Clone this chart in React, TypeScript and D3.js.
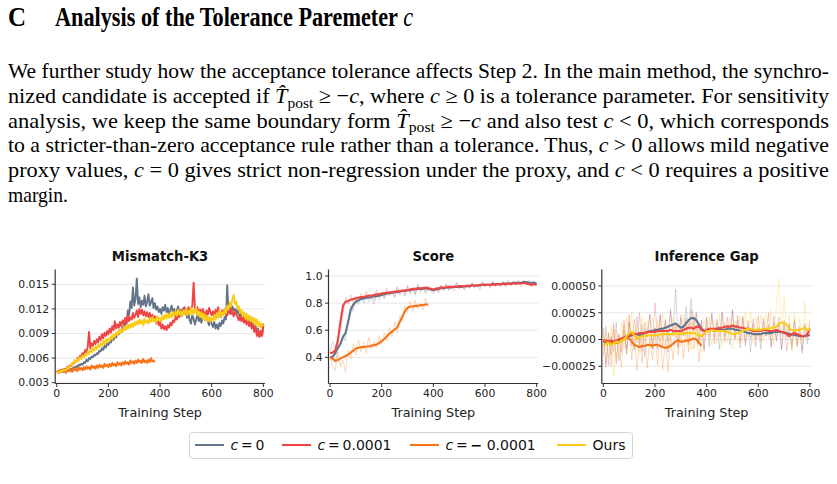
import * as d3 from 'd3';
import React from 'react';

// ---- run data -------------------------------------------------------------

const STEP_TICKS = [0, 200, 400, 600, 800];
const X_DOMAIN: [number, number] = [-6, 806];

// Mismatch-K3, logged every 5 steps, values in units of 1e-3
const K3_STRIDE = 5;
const K3_UNIT = 1e-3;
const k3Zero = [
  4.3, 4.4, 4.3, 4.5, 4.4, 4.3, 4.5, 4.6, 4.4, 4.5, 4.6,
  4.7, 4.6, 4.9, 4.8, 5.0, 4.9, 5.2, 5.1, 5.3, 5.2,
  5.5, 5.4, 5.8, 5.6, 6.0, 5.9, 6.2, 6.1, 6.4, 6.3,
  6.6, 6.5, 6.9, 6.8, 7.2, 7.0, 7.5, 7.3, 7.8, 7.6,
  8.0, 7.9, 8.4, 8.2, 8.7, 8.5, 9.0, 8.9, 9.4, 9.2,
  9.8, 9.6, 10.3, 10.1,
  11.8, 11.2, 12.9, 12.1, 14.6, 12.4,
  13.2, 15.7, 12.6, 13.4,
  12.2, 13.0, 12.5, 13.6, 12.3, 12.9, 13.8, 12.4, 12.8, 13.3, 12.1, 12.7,
  11.9, 12.3, 11.6, 12.0,
  11.4, 12.2, 11.8, 12.5, 11.6, 12.1, 11.3, 11.9, 12.4, 11.5, 12.0, 11.2, 11.8, 12.3, 11.4, 11.9, 11.1, 11.6, 12.2, 11.5,
  10.9, 11.6, 10.6, 10.2, 11.3, 10.8, 10.1, 10.7, 11.4, 10.5, 11.0, 10.3, 10.9, 11.5, 10.6, 11.2, 10.4, 10.0, 10.8, 10.2,
  9.8, 10.4, 9.6, 10.1, 9.5, 10.3, 9.9, 10.6, 10.2, 11.0, 10.7,
  14.9,
  11.6, 12.1, 11.4, 12.3, 11.8, 12.0, 11.5, 11.9, 11.2, 11.7, 11.0, 11.5, 10.8, 11.3, 10.6, 11.1,
  10.4, 10.9, 9.8, 10.3, 9.4, 9.9, 9.0, 9.6, 8.6, 9.2, 8.8, 10.2,
];
const k3Pos = [
  4.3, 4.4, 4.5, 4.3, 4.6, 4.5, 4.7, 4.6, 4.9, 4.8, 5.1,
  5.0, 5.4, 5.3, 5.7, 5.5, 6.0, 5.8, 6.3, 6.1, 6.6,
  6.4, 7.0, 6.7, 7.4, 9.2,
  7.2, 7.8, 7.5, 8.1, 7.7, 8.3, 7.9, 8.6, 8.2, 8.9, 8.4, 9.1, 8.7, 9.3, 8.9,
  9.6, 9.1, 9.9, 9.4, 10.5, 9.6, 10.1, 9.7, 10.4, 9.9,
  10.6, 10.1, 10.9, 10.3, 11.2, 10.5, 11.0, 10.7, 11.5, 10.9,
  11.3, 11.8, 11.0, 12.0, 11.4, 11.9, 11.2, 11.7, 11.1, 11.6,
  11.0, 11.5, 10.7, 11.3, 10.5, 11.1, 10.2, 10.8, 10.0, 10.4,
  9.6, 10.1, 9.5, 9.9, 9.4, 10.0, 9.7, 10.3, 10.0, 10.6,
  10.4, 11.0, 10.7, 11.4, 11.0, 11.8, 11.3, 12.1, 11.5, 12.0, 11.4, 12.2, 11.7, 12.0,
  12.4, 15.2, 12.1,
  11.6, 12.2, 11.4, 11.9, 11.2, 12.0, 11.5, 11.1, 11.8, 11.3, 12.1, 11.6, 11.2,
  11.7, 11.0, 11.9, 11.4, 12.2, 11.5, 11.0, 11.8, 11.3, 12.0, 11.6, 11.2, 11.9, 11.4, 12.1, 11.5, 11.1, 11.7, 11.3, 11.0,
  10.6, 11.2, 10.5, 11.0, 10.3, 10.8, 10.1, 10.6, 9.9, 10.4,
  9.6, 10.1, 9.2, 9.8, 8.7, 9.4, 8.6, 9.3, 8.7, 10.0,
];
const k3Neg = [
  4.3, 4.4, 4.2, 4.5, 4.3, 4.6, 4.4, 4.2, 4.5, 4.7, 4.4,
  4.6, 4.3, 4.8, 4.5, 4.7, 4.4, 4.9, 4.6, 4.8, 4.5,
  4.9, 4.6, 5.0, 4.7, 4.9, 4.6, 5.1, 4.8, 5.0, 4.7,
  5.1, 4.8, 5.2, 4.9, 5.1, 4.8, 5.3, 5.0, 5.2, 4.9,
  5.3, 5.0, 5.4, 5.1, 5.3, 5.0, 5.5, 5.2, 5.4, 5.1,
  5.5, 5.2, 5.6, 5.3, 5.5, 5.2, 5.7, 5.4, 5.6, 5.3,
  5.7, 5.4, 5.8, 5.5, 5.7, 5.4, 5.9, 5.5, 5.7, 5.4,
  5.8, 5.5, 6.0, 5.6, 5.7, 5.5,
];
const k3Ours = [
  4.3, 4.2, 4.4, 4.3, 4.5, 4.4, 4.6, 4.5, 4.8, 4.7, 5.0,
  5.1, 5.4, 5.3, 5.7, 5.5, 5.9, 5.7, 6.1, 5.9, 6.3,
  6.1, 6.5, 6.3, 6.8, 6.5, 7.0, 6.7, 7.2, 6.9, 7.4,
  7.1, 7.6, 7.3, 7.8, 7.5, 8.1, 7.7, 8.3, 7.9, 8.4,
  8.1, 8.7, 8.3, 8.9, 8.6, 9.1, 8.8, 9.4, 9.0, 9.5,
  9.2, 9.8, 9.4, 10.0, 9.5, 10.1, 9.7, 10.2, 9.8, 10.4,
  10.0, 10.5, 10.1, 10.7, 10.2, 10.6, 10.0, 10.8, 10.3, 10.6,
  10.2, 10.9, 10.4, 11.0, 10.5, 10.8, 10.3, 11.1, 10.6, 10.9,
  10.5, 11.2, 10.7, 11.3, 10.8, 11.4, 10.9, 11.5, 11.0, 11.6,
  11.1, 11.7, 11.2, 11.9, 11.3, 11.7, 11.1, 11.8, 11.4, 12.0,
  11.2, 11.8, 11.4, 12.1, 11.3, 11.9, 11.5, 12.2, 11.2, 11.7,
  11.0, 11.6, 10.8, 11.4, 10.6, 11.2, 10.5, 11.0, 10.4, 10.9,
  10.6, 11.3, 10.7, 11.5, 10.9, 11.8, 11.1, 11.6, 11.2, 12.0,
  11.5, 12.4, 11.9, 12.8, 12.3, 13.2, 13.7, 12.6, 12.9, 12.0,
  12.3, 11.5, 11.9, 11.1, 11.6, 10.8, 11.4, 10.6, 11.2, 10.5,
  11.0, 10.3, 10.9, 10.1, 10.7, 9.9, 10.4, 9.7, 10.2, 9.9,
];

// Score and Inference Gap, logged every 10 steps (raw + smoothed)
const RUN_STRIDE = 10;

const scoreZeroRaw = [
  0.39, 0.42, 0.36, 0.45, 0.48, 0.57, 0.52, 0.68, 0.78, 0.74, 0.83,
  0.79, 0.85, 0.80, 0.86, 0.81, 0.84, 0.79, 0.87, 0.82, 0.86,
  0.83, 0.89, 0.85, 0.88, 0.84, 0.91, 0.86, 0.89, 0.85, 0.92,
  0.87, 0.91, 0.86, 0.93, 0.88, 0.92, 0.87, 0.91, 0.89, 0.87,
  0.91, 0.88, 0.93, 0.89, 0.94, 0.90, 0.92, 0.89, 0.95, 0.91,
  0.93, 0.90, 0.94, 0.91, 0.95, 0.91, 0.94, 0.92, 0.96, 0.92,
  0.94, 0.92, 0.96, 0.93, 0.95, 0.92, 0.96, 0.93, 0.97, 0.94,
  0.96, 0.93, 0.97, 0.94, 0.96, 0.94, 0.97, 0.93, 0.96, 0.94,
];
const scoreZeroSmooth = [
  0.40, 0.405, 0.43, 0.47, 0.50, 0.55, 0.58, 0.66, 0.75, 0.79, 0.81,
  0.82, 0.83, 0.835, 0.84, 0.84, 0.845, 0.85, 0.85, 0.855, 0.86,
  0.865, 0.87, 0.875, 0.875, 0.88, 0.88, 0.885, 0.89, 0.89, 0.895,
  0.895, 0.90, 0.90, 0.905, 0.905, 0.905, 0.91, 0.905, 0.90, 0.895,
  0.90, 0.905, 0.91, 0.91, 0.915, 0.915, 0.915, 0.92, 0.92, 0.92,
  0.92, 0.925, 0.925, 0.925, 0.93, 0.93, 0.93, 0.93, 0.935, 0.935,
  0.935, 0.935, 0.935, 0.94, 0.94, 0.94, 0.945, 0.945, 0.945, 0.945,
  0.95, 0.95, 0.95, 0.95, 0.955, 0.955, 0.95, 0.95, 0.95, 0.945,
];
const scorePosRaw = [
  0.44, 0.52, 0.47, 0.55, 0.60, 0.72, 0.84, 0.79, 0.86, 0.80, 0.85,
  0.81, 0.87, 0.83, 0.89, 0.84, 0.86, 0.82, 0.90, 0.85, 0.88,
  0.84, 0.91, 0.86, 0.89, 0.85, 0.92, 0.87, 0.90, 0.86, 0.93,
  0.88, 0.91, 0.87, 0.94, 0.89, 0.92, 0.88, 0.93, 0.90, 0.89,
  0.92, 0.88, 0.93, 0.90, 0.94, 0.89, 0.92, 0.91, 0.95, 0.90,
  0.93, 0.90, 0.94, 0.91, 0.95, 0.92, 0.93, 0.90, 0.95, 0.92,
  0.94, 0.91, 0.96, 0.92, 0.94, 0.93, 0.96, 0.92, 0.95, 0.93,
  0.96, 0.93, 0.95, 0.92, 0.97, 0.93, 0.95, 0.92, 0.96, 0.94,
];
const scorePosSmooth = [
  0.43, 0.435, 0.45, 0.52, 0.66, 0.78, 0.81, 0.815, 0.825, 0.83, 0.835,
  0.84, 0.845, 0.845, 0.85, 0.855, 0.855, 0.86, 0.865, 0.865, 0.87,
  0.875, 0.875, 0.88, 0.88, 0.885, 0.885, 0.89, 0.89, 0.895, 0.895,
  0.90, 0.905, 0.905, 0.91, 0.91, 0.91, 0.915, 0.91, 0.905, 0.90,
  0.905, 0.91, 0.915, 0.915, 0.915, 0.92, 0.92, 0.92, 0.92, 0.925,
  0.925, 0.925, 0.925, 0.93, 0.93, 0.93, 0.93, 0.935, 0.935, 0.935,
  0.935, 0.935, 0.94, 0.935, 0.94, 0.94, 0.94, 0.94, 0.945, 0.94,
  0.945, 0.945, 0.945, 0.945, 0.95, 0.945, 0.94, 0.935, 0.94, 0.935,
];
const scoreNegRaw = [
  0.41, 0.34, 0.30, 0.44, 0.33, 0.38, 0.29, 0.45, 0.39, 0.50, 0.42,
  0.53, 0.44, 0.51, 0.43, 0.55, 0.46, 0.52, 0.47, 0.56, 0.50,
  0.58, 0.52, 0.62, 0.55, 0.66, 0.58, 0.71, 0.67, 0.78, 0.73,
  0.81, 0.74, 0.82, 0.76, 0.80, 0.75, 0.84, 0.77,
];
const scoreNegSmooth = [
  0.40, 0.39, 0.375, 0.38, 0.39, 0.40, 0.41, 0.42, 0.435, 0.45, 0.465,
  0.47, 0.475, 0.475, 0.48, 0.48, 0.485, 0.49, 0.495, 0.505, 0.52,
  0.535, 0.555, 0.575, 0.59, 0.605, 0.62, 0.66, 0.70, 0.74, 0.765,
  0.775, 0.775, 0.78, 0.78, 0.785, 0.785, 0.79, 0.79,
];

// Inference gap in units of 1e-4
const GAP_UNIT = 1e-4;
const gapZeroRaw = [
  -1.5, 1.2, -2.4, 0.3, -1.1, 1.6, -2.0, -0.4, 0.9, -1.3, 1.5,
  0.2, -1.0, 2.1, -0.5, 1.4, -1.6, 0.6, 2.3, -0.8, 1.1,
  -0.9, 2.4, 0.1, 1.7, -1.2, 2.9, 0.4, 4.7, -0.6, 2.0,
  0.3, 3.1, 0.9, 3.8, 1.2, 2.6, -0.4, 1.8, -1.1, 1.9,
  -0.7, 2.4, 0.2, 1.6, -0.9, 2.5, 0.3, 1.4, -0.5, 2.7,
  0.1, 1.8, -0.8, 2.2, -0.3, 1.3, -1.2, 1.9, 0.0, 1.1,
  -0.9, 2.0, 0.3, 1.4, -0.6, 2.2, -0.2, 1.5, -1.0, 1.8,
  0.2, 1.3, -0.9, 1.7, -0.5, 1.0, -1.3, 1.5, -0.4, 1.2,
];
const gapZeroSmooth = [
  -0.2, -0.3, -0.2, -0.4, -0.3, -0.3, -0.1, 0.0, 0.1, 0.2, 0.3,
  0.4, 0.5, 0.5, 0.4, 0.5, 0.6, 0.7, 0.8, 0.8, 0.9,
  0.9, 1.0, 1.0, 1.1, 1.2, 1.3, 1.4, 1.5, 1.3, 1.1,
  1.2, 1.5, 1.8, 2.0, 2.0, 1.8, 1.4, 1.0, 0.8, 0.8,
  0.9, 0.9, 0.8, 0.9, 1.0, 0.9, 0.9, 1.0, 1.0, 1.0,
  0.9, 0.9, 0.8, 0.8, 0.7, 0.6, 0.6, 0.5, 0.5, 0.5,
  0.5, 0.6, 0.6, 0.6, 0.6, 0.7, 0.7, 0.7, 0.7, 0.6,
  0.6, 0.5, 0.5, 0.4, 0.4, 0.3, 0.3, 0.3, 0.4, 0.4,
];
const gapPosRaw = [
  1.0, -2.6, 0.6, -1.4, 1.5, -2.3, 0.4, -1.2, 1.8, -0.9, 2.3,
  -0.6, 1.9, -0.3, 2.5, -1.1, 1.6, 0.2, 2.4, -0.9, 3.4,
  0.1, 2.2, -0.7, 1.9, -0.2, 2.6, 0.3, 1.4, -0.8, 2.3,
  0.4, 2.0, -0.5, 2.8, 0.6, 2.4, -0.1, 1.7, -0.9, 2.1,
  0.2, 2.5, -0.4, 1.9, 0.3, 2.6, -0.2, 2.1, 0.5, 2.8,
  0.0, 2.3, -0.3, 2.0, -0.6, 1.8, 0.1, 1.5, -0.7, 2.2,
  -0.2, 1.7, 0.3, 2.5, -0.8, 1.6, 0.0, 2.1, -0.9, 1.4,
  -1.1, 1.5, -0.6, 1.9, -0.7, 1.2, -1.0, 1.3, 0.1, 1.8,
];
const gapPosSmooth = [
  -0.2, -0.1, -0.2, -0.1, -0.2, -0.1, 0.0, 0.1, 0.2, 0.3, 0.4,
  0.5, 0.5, 0.5, 0.6, 0.6, 0.6, 0.7, 0.7, 0.7, 0.7,
  0.8, 0.8, 0.8, 0.8, 0.8, 0.9, 0.8, 0.8, 0.8, 0.8,
  0.9, 1.0, 1.1, 1.1, 1.0, 1.2, 1.2, 0.9, 0.8, 0.9,
  1.0, 1.0, 1.0, 1.0, 1.1, 1.1, 1.2, 1.2, 1.2, 1.3,
  1.2, 1.2, 1.1, 1.1, 1.0, 1.0, 0.9, 0.8, 0.8, 0.8,
  0.8, 0.9, 0.9, 0.8, 0.8, 0.8, 0.9, 0.8, 0.7, 0.7,
  0.5, 0.3, 0.5, 0.6, 0.5, 0.4, 0.3, 0.3, 0.5, 1.0,
];
const gapNegRaw = [
  1.1, -2.3, 0.6, -2.5, 1.0, -1.8, 0.5, -2.6, 1.3, -1.4, 1.7,
  -1.9, 0.8, -2.9, 0.4, -2.2, 1.0, -2.7, 0.3, -1.9, 0.6,
  -2.4, 0.5, -2.8, -0.1, -3.0, 0.4, -1.9, 1.2, -1.5, 1.0,
  -1.8, 1.4, -1.2, 1.6, -0.9, 1.2, -2.1, 0.5,
];
const gapNegSmooth = [
  0.0, -0.2, -0.3, -0.4, -0.3, -0.2, -0.3, -0.1, 0.1, 0.2, 0.1,
  -0.2, -0.5, -0.6, -0.7, -0.6, -0.6, -0.5, -0.5, -0.6, -0.5,
  -0.5, -0.6, -0.7, -0.8, -0.7, -0.6, -0.4, -0.2, -0.1, -0.2,
  -0.2, -0.1, -0.1, 0.0, 0.1, 0.0, -0.3, -0.6,
];
const gapOursRaw = [
  -0.9, 0.8, -1.7, 1.3, -3.3, 0.9, -1.5, 1.6, -0.8, 2.1, 0.2,
  2.6, -0.9, 1.4, -1.3, 2.2, -0.4, 1.7, -0.8, 2.0, 0.1,
  1.8, -0.6, 2.4, -0.3, 1.5, -0.9, 2.1, 0.2, 1.6, -0.7,
  2.3, -0.5, 1.9, -1.0, 2.5, 0.0, 1.4, -1.2, 2.0, 0.4,
  2.1, -0.6, 1.8, -0.3, 2.4, -0.7, 1.6, -0.2, 2.0, -0.9,
  1.7, -0.4, 2.2, -0.1, 2.5, 0.2, 2.6, -0.3, 2.1, 0.0,
  2.4, -0.2, 2.3, 0.1, 2.8, -0.5, 3.1, 5.7, 0.4, 3.9,
  0.2, 2.3, -1.1, 2.5, -0.6, 2.0, -0.2, 3.5, 0.1, 1.9,
];
const gapOursSmooth = [
  -0.6, -0.4, -0.3, -0.5, -0.4, -0.2, -0.3, -0.1, 0.0, 0.3, 0.6,
  0.7, 0.4, 0.1, 0.2, 0.3, 0.3, 0.4, 0.4, 0.4, 0.4,
  0.4, 0.5, 0.5, 0.5, 0.5, 0.5, 0.5, 0.6, 0.5, 0.5,
  0.6, 0.6, 0.6, 0.6, 0.6, 0.5, 0.4, 0.3, 0.5, 0.8,
  0.8, 0.9, 0.8, 0.8, 0.8, 0.8, 0.8, 0.7, 0.6, 0.5,
  0.5, 0.6, 0.7, 0.8, 0.9, 1.0, 1.0, 0.9, 0.9, 0.9,
  0.9, 1.0, 1.0, 1.0, 1.1, 1.1, 1.2, 1.5, 1.6, 1.5,
  1.4, 1.0, 0.9, 0.8, 0.9, 0.9, 1.0, 1.1, 0.9, 0.9,
];

const K3_TICKS = [0.003, 0.006, 0.009, 0.012, 0.015];
const SCORE_TICKS = [0.4, 0.6, 0.8, 1.0];
const GAP_TICKS = [-0.00025, 0, 0.00025, 0.0005];

const COLORS = { zero: '#64748b', pos: '#ef4444', neg: '#f97316', ours: '#facc15' };

// ---- layout ---------------------------------------------------------------

const PLOT_TOP = 269.5;
const PLOT_BOTTOM = 383.5;
const PLOT_W = 209.7;
const SANS = 'DejaVu Sans, sans-serif';
const SERIF = 'Liberation Serif, Times New Roman, serif';

interface Layer {
  values: number[];
  stride: number;
  unit: number;
  color: string;
  width: number;
  opacity: number;
}

interface PanelProps {
  title: string;
  left: number;
  yDomain: [number, number];
  yTicks: number[];
  yFormat: (v: number) => string;
  layers: Layer[];
}

function Panel({ title, left, yDomain, yTicks, yFormat, layers }: PanelProps) {
  const right = left + PLOT_W;
  const x = d3.scaleLinear().domain(X_DOMAIN).range([left, right]);
  const y = d3.scaleLinear().domain(yDomain).range([PLOT_BOTTOM, PLOT_TOP]);
  const axisColor = '#333';

  return (
    <g fontFamily={SANS}>
      {yTicks.map(t => (
        <line key={'g' + t} x1={left} x2={right} y1={y(t)} y2={y(t)} stroke="#e8e8e8" strokeWidth={1} />
      ))}
      {layers.map((l, k) => {
        const line = d3.line<number>()
          .x((_, i) => x(i * l.stride))
          .y(v => y(v * l.unit));
        return (
          <path key={k} d={line(l.values) ?? ''} fill="none" stroke={l.color}
            strokeWidth={l.width} strokeOpacity={l.opacity} strokeLinejoin="round" />
        );
      })}
      <line x1={left} x2={left} y1={PLOT_TOP} y2={PLOT_BOTTOM} stroke={axisColor} strokeWidth={1.2} />
      <line x1={left} x2={right} y1={PLOT_BOTTOM} y2={PLOT_BOTTOM} stroke={axisColor} strokeWidth={1.2} />
      {yTicks.map(t => (
        <g key={'y' + t}>
          <line x1={left - 3.5} x2={left} y1={y(t)} y2={y(t)} stroke={axisColor} strokeWidth={1} />
          <text x={left - 6} y={y(t) + 3.8} fontSize={10.8} textAnchor="end" fill="#222">{yFormat(t)}</text>
        </g>
      ))}
      {STEP_TICKS.map(t => (
        <g key={'x' + t}>
          <line x1={x(t)} x2={x(t)} y1={PLOT_BOTTOM} y2={PLOT_BOTTOM + 3.5} stroke={axisColor} strokeWidth={1} />
          <text x={x(t)} y={PLOT_BOTTOM + 13.6} fontSize={10.8} textAnchor="middle" fill="#222">{t}</text>
        </g>
      ))}
      <text x={(left + right) / 2} y={260.7} fontSize={13.2} fontWeight="bold" textAnchor="middle" fill="#111">{title}</text>
      <text x={(left + right) / 2} y={416.8} fontSize={12.8} textAnchor="middle" fill="#222">Training Step</text>
    </g>
  );
}

const raw = (values: number[], color: string, unit = 1): Layer =>
  ({ values, stride: RUN_STRIDE, unit, color, width: 0.9, opacity: 0.3 });
const smooth = (values: number[], color: string, unit = 1): Layer =>
  ({ values, stride: RUN_STRIDE, unit, color, width: 2.1, opacity: 1 });
const k3 = (values: number[], color: string): Layer =>
  ({ values, stride: K3_STRIDE, unit: K3_UNIT, color, width: 1.9, opacity: 1 });

const LEGEND = [
  { color: COLORS.zero, x: 195, value: '0', neg: false },
  { color: COLORS.pos, x: 282, value: '0.0001', neg: false },
  { color: COLORS.neg, x: 410, value: '0.0001', neg: true },
  { color: COLORS.ours, x: 557, value: null, neg: false },
];

const I = ({ children }: { children: React.ReactNode }) => <tspan fontStyle="italic">{children}</tspan>;

function Post() {
  return (
    <>
      <tspan fontStyle="italic">{'T\u0302'}</tspan>
      <tspan fontSize={15} dy={4.5}>post</tspan>
      <tspan dy={-4.5}>{' \u2265 \u2212'}</tspan>
      <I>c</I>
    </>
  );
}

export default function App() {
  const f = d3.format('.5f');
  return (
    <svg width={837} height={484} viewBox="0 0 837 484"
      style={{ position: 'fixed', left: 0, top: 0, background: '#fff' }}>
      <rect width={837} height={484} fill="#fff" />

      <g fontFamily={SERIF} fill="#000">
        <text x={8} y={26} fontSize={27} fontWeight="bold" textLength={18} lengthAdjust="spacingAndGlyphs">C</text>
        <text x={55} y={26} fontSize={27} fontWeight="bold" textLength={358} lengthAdjust="spacingAndGlyphs">
          {'Analysis of the Tolerance Paremeter '}
          <tspan fontStyle="italic" fontWeight="normal">c</tspan>
        </text>

        <g fontSize={21.5}>
          <text x={8} y={78} textLength={821} lengthAdjust="spacingAndGlyphs">
            We further study how the acceptance tolerance affects Step 2. In the main method, the synchro-
          </text>
          <text x={8} y={103} textLength={821} lengthAdjust="spacingAndGlyphs">
            {'nized candidate is accepted if '}<Post />{', where '}<I>c</I>
            {' \u2265 0 is a tolerance parameter. For sensitivity'}
          </text>
          <text x={8} y={127.5} textLength={821} lengthAdjust="spacingAndGlyphs">
            {'analysis, we keep the same boundary form '}<Post />{' and also test '}<I>c</I>
            {' < 0, which corresponds'}
          </text>
          <text x={8} y={152} textLength={821} lengthAdjust="spacingAndGlyphs">
            {'to a stricter-than-zero acceptance rule rather than a tolerance. Thus, '}<I>c</I>
            {' > 0 allows mild negative'}
          </text>
          <text x={8} y={177} textLength={821} lengthAdjust="spacingAndGlyphs">
            {'proxy values, '}<I>c</I>{' = 0 gives strict non-regression under the proxy, and '}<I>c</I>
            {' < 0 requires a positive'}
          </text>
          <text x={8} y={201.5} textLength={60} lengthAdjust="spacingAndGlyphs">margin.</text>
        </g>
      </g>

      <Panel title="Mismatch-K3" left={55.2} yDomain={[0.0029, 0.0168]} yTicks={K3_TICKS}
        yFormat={d3.format('.3f')}
        layers={[k3(k3Zero, COLORS.zero), k3(k3Pos, COLORS.pos), k3(k3Neg, COLORS.neg), k3(k3Ours, COLORS.ours)]} />

      <Panel title="Score" left={328.5} yDomain={[0.207, 1.048]} yTicks={SCORE_TICKS}
        yFormat={d3.format('.1f')}
        layers={[
          raw(scoreZeroRaw, COLORS.zero), raw(scorePosRaw, COLORS.pos), raw(scoreNegRaw, COLORS.neg),
          smooth(scoreZeroSmooth, COLORS.zero), smooth(scorePosSmooth, COLORS.pos), smooth(scoreNegSmooth, COLORS.neg),
        ]} />

      <Panel title="Inference Gap" left={601.8} yDomain={[-0.000411, 0.000654]} yTicks={GAP_TICKS}
        yFormat={v => f(v)}
        layers={[
          raw(gapZeroRaw, COLORS.zero, GAP_UNIT), raw(gapPosRaw, COLORS.pos, GAP_UNIT),
          raw(gapNegRaw, COLORS.neg, GAP_UNIT), raw(gapOursRaw, COLORS.ours, GAP_UNIT),
          smooth(gapZeroSmooth, COLORS.zero, GAP_UNIT), smooth(gapPosSmooth, COLORS.pos, GAP_UNIT),
          smooth(gapNegSmooth, COLORS.neg, GAP_UNIT), smooth(gapOursSmooth, COLORS.ours, GAP_UNIT),
        ]} />

      <g fontFamily={SANS} fontSize={14} fill="#111">
        <rect x={189.5} y={432.5} width={443} height={26} rx={3} fill="#fff" stroke="#d4d4d4" strokeWidth={1} />
        {LEGEND.map(d => (
          <g key={d.x}>
            <line x1={d.x} x2={d.x + 29} y1={445} y2={445} stroke={d.color} strokeWidth={2} />
            <text x={d.x + 35.5} y={450}>
              {d.value === null ? 'Ours' : (
                <>
                  <I>c</I>
                  {'\u2009=\u2009'}
                  {d.neg && <tspan fontWeight="bold" fill="#000">{'\u2212'}</tspan>}
                  {d.neg ? ' ' + d.value : d.value}
                </>
              )}
            </text>
          </g>
        ))}
      </g>
    </svg>
  );
}
